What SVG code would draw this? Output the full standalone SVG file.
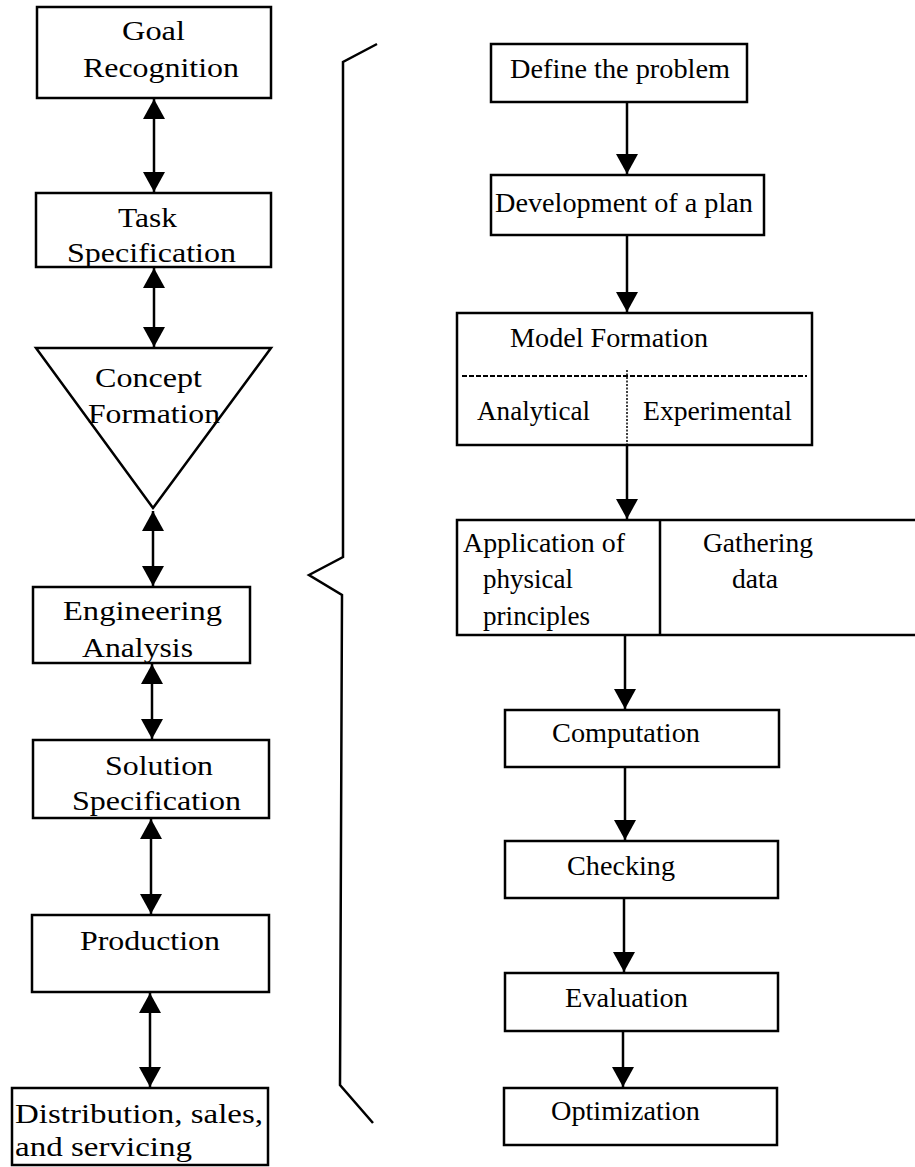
<svg xmlns="http://www.w3.org/2000/svg" width="915" height="1167" viewBox="0 0 915 1167">
<style>
.box{fill:#fff;stroke:#000;stroke-width:2.5}
.t{font-family:"Liberation Serif",serif;font-size:28px;fill:#000}
.ln{stroke:#000;stroke-width:2.5;fill:none}
.dbl{marker-start:url(#ah);marker-end:url(#ah)}
.one{marker-end:url(#ah)}
</style>
<defs>
<marker id="ah" markerUnits="userSpaceOnUse" markerWidth="22" markerHeight="24" refX="20" refY="11" orient="auto-start-reverse" viewBox="0 0 22 24">
<path d="M0,0 L20,11 L0,22 z" fill="#000"/>
</marker>
</defs>
<rect width="915" height="1167" fill="#fff"/>

<g id="connectors">
<line class="ln dbl" x1="154" y1="99" x2="154" y2="192"/>
<line class="ln dbl" x1="154" y1="268" x2="154" y2="347"/>
<line class="ln dbl" x1="153" y1="511" x2="153" y2="586"/>
<line class="ln dbl" x1="152" y1="664" x2="152" y2="739"/>
<line class="ln dbl" x1="151" y1="819" x2="151" y2="914"/>
<line class="ln dbl" x1="150" y1="993" x2="150" y2="1087"/>
<line class="ln one" x1="627" y1="103" x2="627" y2="174"/>
<line class="ln one" x1="627" y1="236" x2="627" y2="312"/>
<line class="ln one" x1="627" y1="446" x2="627" y2="519"/>
<line class="ln one" x1="625" y1="636" x2="625" y2="709"/>
<line class="ln one" x1="625" y1="768" x2="625" y2="840"/>
<line class="ln one" x1="624" y1="899" x2="624" y2="972"/>
<line class="ln one" x1="623" y1="1032" x2="623" y2="1087"/>
</g>

<g id="brace">
<path class="ln" d="M377,44 L343,62 L343,557 L309,575 L342,595 L340,1085 L373,1123"/>
</g>

<g id="goal-recognition">
<rect class="box" x="37" y="7" width="234" height="91"/>
<text class="t" x="122" y="40" textLength="63" lengthAdjust="spacingAndGlyphs">Goal</text>
<text class="t" x="83" y="77" textLength="156" lengthAdjust="spacingAndGlyphs">Recognition</text>
</g>
<g id="task-specification">
<rect class="box" x="36" y="193" width="235" height="74"/>
<text class="t" x="118" y="227" textLength="59" lengthAdjust="spacingAndGlyphs">Task</text>
<text class="t" x="67" y="262" textLength="169" lengthAdjust="spacingAndGlyphs">Specification</text>
</g>
<g id="concept-formation">
<polygon class="box" points="36,348 271,348 153,508"/>
<text class="t" x="95" y="387" textLength="107" lengthAdjust="spacingAndGlyphs">Concept</text>
<text class="t" x="88" y="423" textLength="132" lengthAdjust="spacingAndGlyphs">Formation</text>
</g>
<g id="engineering-analysis">
<rect class="box" x="33" y="587" width="217" height="76"/>
<text class="t" x="63" y="620" textLength="159" lengthAdjust="spacingAndGlyphs">Engineering</text>
<text class="t" x="82" y="657" textLength="111" lengthAdjust="spacingAndGlyphs">Analysis</text>
</g>
<g id="solution-specification">
<rect class="box" x="33" y="740" width="236" height="78"/>
<text class="t" x="105" y="775" textLength="108" lengthAdjust="spacingAndGlyphs">Solution</text>
<text class="t" x="72" y="810" textLength="169" lengthAdjust="spacingAndGlyphs">Specification</text>
</g>
<g id="production">
<rect class="box" x="32" y="915" width="237" height="77"/>
<text class="t" x="80" y="950" textLength="140" lengthAdjust="spacingAndGlyphs">Production</text>
</g>
<g id="distribution">
<rect class="box" x="12" y="1088" width="256" height="77"/>
<text class="t" x="15" y="1123" textLength="248" lengthAdjust="spacingAndGlyphs">Distribution, sales,</text>
<text class="t" x="15" y="1156" textLength="177" lengthAdjust="spacingAndGlyphs">and servicing</text>
</g>

<g id="define-problem">
<rect class="box" x="491" y="44" width="256" height="58"/>
<text class="t" x="510" y="78" textLength="220" lengthAdjust="spacingAndGlyphs">Define the problem</text>
</g>
<g id="development-plan">
<rect class="box" x="491" y="175" width="273" height="60"/>
<text class="t" x="495" y="212" textLength="258" lengthAdjust="spacingAndGlyphs">Development of a plan</text>
</g>
<g id="model-formation">
<rect class="box" x="457" y="313" width="355" height="132"/>
<text class="t" x="510" y="347" textLength="198" lengthAdjust="spacingAndGlyphs">Model Formation</text>
<line x1="462" y1="376" x2="807" y2="376" stroke="#000" stroke-width="2" stroke-dasharray="5,2"/>
<line x1="627" y1="370" x2="627" y2="445" stroke="#000" stroke-width="1.5" stroke-dasharray="2,1.5"/>
<text class="t" x="477" y="420" textLength="113" lengthAdjust="spacingAndGlyphs">Analytical</text>
<text class="t" x="643" y="420" textLength="149" lengthAdjust="spacingAndGlyphs">Experimental</text>
</g>
<g id="application-gathering">
<path class="box" d="M916,520 H457 V635 H916"/>
<line class="ln" x1="660" y1="520" x2="660" y2="635" stroke-width="1.5"/>
<text class="t" x="463" y="552" textLength="162" lengthAdjust="spacingAndGlyphs">Application of</text>
<text class="t" x="483" y="588" textLength="90" lengthAdjust="spacingAndGlyphs">physical</text>
<text class="t" x="483" y="625" textLength="107" lengthAdjust="spacingAndGlyphs">principles</text>
<text class="t" x="703" y="552" textLength="110" lengthAdjust="spacingAndGlyphs">Gathering</text>
<text class="t" x="732" y="588" textLength="46" lengthAdjust="spacingAndGlyphs">data</text>
</g>
<g id="computation">
<rect class="box" x="505" y="710" width="274" height="57"/>
<text class="t" x="552" y="742" textLength="148" lengthAdjust="spacingAndGlyphs">Computation</text>
</g>
<g id="checking">
<rect class="box" x="505" y="841" width="273" height="57"/>
<text class="t" x="567" y="875" textLength="108" lengthAdjust="spacingAndGlyphs">Checking</text>
</g>
<g id="evaluation">
<rect class="box" x="505" y="973" width="273" height="58"/>
<text class="t" x="565" y="1007" textLength="123" lengthAdjust="spacingAndGlyphs">Evaluation</text>
</g>
<g id="optimization">
<rect class="box" x="504" y="1088" width="273" height="57"/>
<text class="t" x="551" y="1120" textLength="149" lengthAdjust="spacingAndGlyphs">Optimization</text>
</g>
</svg>
